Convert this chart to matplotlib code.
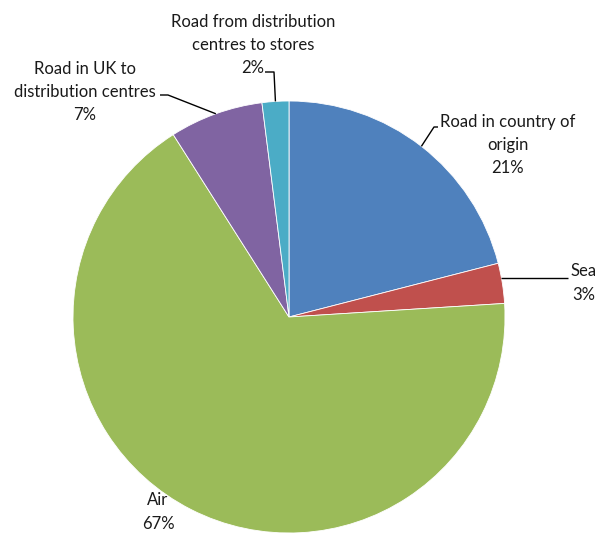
import numpy as np
import matplotlib
matplotlib.use("Agg")
import matplotlib.pyplot as plt

categories = ["Road in country of\norigin", "Sea", "Air",
              "Road in UK to\ndistribution centres",
              "Road from distribution\ncentres to stores"]
values = [21, 3, 67, 7, 2]
colors = ["#4F81BD", "#C0504D", "#9BBB59", "#8064A2", "#4BACC6"]

W, H = 599, 535
fig = plt.figure(figsize=(W / 100, H / 100), dpi=100)
ax = fig.add_axes([0, 0, 1, 1])

cx, cy, R = 289, H - 317, 216
wedges, _ = ax.pie(values, colors=colors, startangle=90, counterclock=False,
                   center=(cx, cy), radius=R,
                   wedgeprops=dict(edgecolor="white", linewidth=0.6))
ax.set_xlim(0, W)
ax.set_ylim(0, H)
ax.set_aspect("equal")
ax.axis("off")

# label layout: (text center x, text center y in px from top, leader path after edge point, horizontal?)
layout = [
    (508, 145, [(434, 127), (438, 127)]),
    (584, 283, [(568, 278)]),
    (158, 512, None),
    (85, 92, [(168, 95), (160, 95)]),
    (253, 45, [(274, 72), (265, 72)]),
]

for w, cat, v, (tx, ty, path) in zip(wedges, categories, values, layout):
    ax.text(tx, H - ty, f"{cat}\n{v}%", ha="center", va="center",
            fontsize=12.0, family=["Lato", "DejaVu Sans"], color="#1a1a1a",
            linespacing=1.55)
    if path:
        mid = np.deg2rad((w.theta1 + w.theta2) / 2)
        ex, ey = cx + R * np.cos(mid), cy + R * np.sin(mid)
        if len(path) == 1:
            ey = H - path[0][1]
            ex = cx + np.sqrt(R ** 2 - (ey - cy) ** 2)
        xs = [ex] + [p[0] for p in path]
        ys = [ey] + [H - p[1] for p in path]
        ax.plot(xs, ys, color="black", lw=1.0, solid_capstyle="butt")

fig.savefig("out.png", dpi=100)
